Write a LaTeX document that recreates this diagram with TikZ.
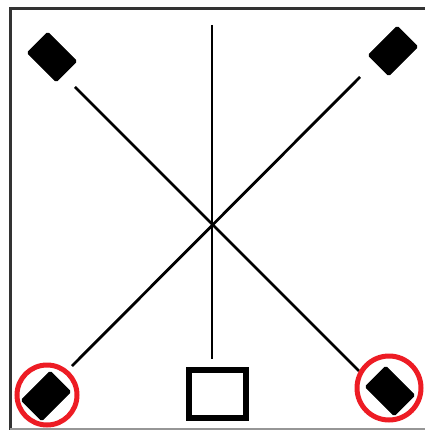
\documentclass[tikz,border=0pt]{standalone}
\definecolor{markred}{RGB}{237,28,36}
\definecolor{framegray}{RGB}{150,150,150}
\begin{document}
\begin{tikzpicture}[x=1pt,y=-1pt,
  frameline/.style={line width=3pt,black!80},
  wire/.style={line width=2.8pt,black},
  blob/.style={rectangle,fill=black,draw=black,line width=1pt,rounded corners=1.5pt,minimum width=41pt,minimum height=29pt,inner sep=0pt},
  box/.style={rectangle,draw=black,line width=6pt,minimum width=57pt,minimum height=48.5pt,inner sep=0pt,fill=white},
  ring/.style={circle,draw=markred,line width=5pt,inner sep=0pt}]
\useasboundingbox (0,0) rectangle (425,430);
% frame
\draw[frameline] (10.5,430) -- (10.5,9) -- (425,9);
\draw[line width=2pt,framegray] (10,428.5) -- (425,428.5);
% connectors
\coordinate (a1) at (75,87);
\coordinate (a2) at (359,371);
\coordinate (b1) at (360,77);
\coordinate (b2) at (72,366);
\coordinate (v1) at (212,25);
\coordinate (v2) at (212,359);
\draw[wire] (a1) -- (a2);
\draw[wire] (b1) -- (b2);
\draw[wire] (v1) -- (v2);
% diamonds
\node[blob,rotate=-45] (tl) at (52,57) {};
\node[blob,rotate=45] (tr) at (393,51) {};
\node[blob,rotate=45] (bl) at (46,396) {};
\node[blob,rotate=-45] (br) at (390,391) {};
% square
\node[box] (sq) at (217,394) {};
% red rings
\node[ring,minimum size=60pt] (rl) at (47,395) {};
\node[ring,minimum size=64pt] (rr) at (389,388) {};
\end{tikzpicture}
\end{document}
